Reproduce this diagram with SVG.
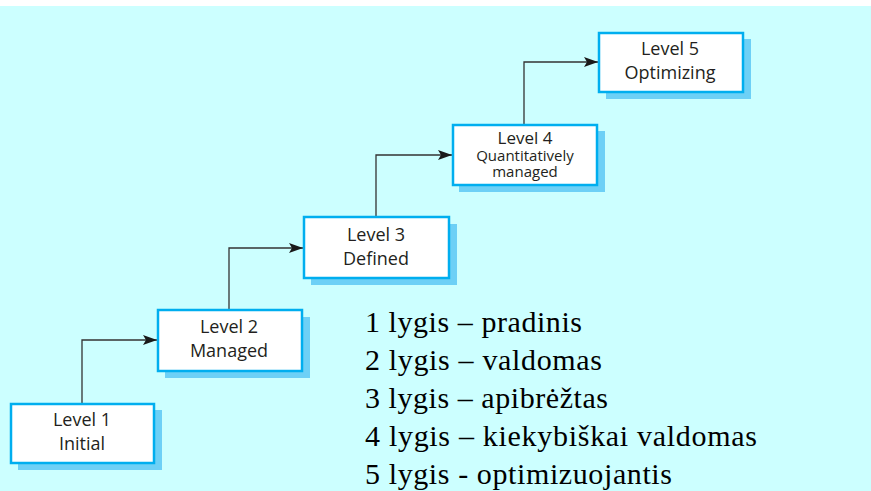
<svg xmlns="http://www.w3.org/2000/svg" width="871" height="491" viewBox="0 0 871 491">
  <style>
    .shadow { fill: #6dd0f6; }
    .box { fill: #ffffff; stroke: #00aeef; stroke-width: 2.5; }
    .lbl { font-family: "Open Sans", "Noto Sans", sans-serif; font-size: 18px; fill: #231f20; text-anchor: middle; }
    .mid { font-size: 17px; }
    .sm { font-size: 15px; }
    .wire { fill: none; stroke: #333333; stroke-width: 1.3; }
    .legend { font-family: "Liberation Serif", "Times New Roman", serif; font-size: 30px; fill: #000000; }
  </style>
  <defs>
    <marker id="arrow" viewBox="0 0 14 10" refX="14" refY="5" markerWidth="14" markerHeight="10" markerUnits="userSpaceOnUse" orient="auto">
      <path d="M0,0 L14,5 L0,10 L3,5 Z" fill="#1a1a1a"/>
    </marker>
  </defs>

  <rect x="0" y="0" width="871" height="491" fill="#ffffff"/>
  <rect x="0" y="6" width="871" height="485" fill="#ccffff"/>

  <g id="connectors">
    <path class="wire" d="M82,403 V340 H157" marker-end="url(#arrow)"/>
    <path class="wire" d="M229,309 V248 H303" marker-end="url(#arrow)"/>
    <path class="wire" d="M376,216 V155 H452" marker-end="url(#arrow)"/>
    <path class="wire" d="M524,124 V62 H598" marker-end="url(#arrow)"/>
  </g>

  <g id="level1">
    <rect class="shadow" x="18" y="410" width="144" height="60"/>
    <rect class="box" x="11" y="404" width="143" height="59"/>
    <text class="lbl" x="82" y="426">Level 1</text>
    <text class="lbl" x="82" y="450">Initial</text>
  </g>

  <g id="level2">
    <rect class="shadow" x="165" y="317" width="145" height="61"/>
    <rect class="box" x="158" y="310" width="144" height="61"/>
    <text class="lbl" x="229" y="333">Level 2</text>
    <text class="lbl" x="229" y="357">Managed</text>
  </g>

  <g id="level3">
    <rect class="shadow" x="311" y="224" width="146" height="61"/>
    <rect class="box" x="304" y="217" width="145" height="61"/>
    <text class="lbl" x="376" y="241">Level 3</text>
    <text class="lbl" x="376" y="265">Defined</text>
  </g>

  <g id="level4">
    <rect class="shadow" x="459" y="131" width="146" height="61"/>
    <rect class="box" x="453" y="125" width="144" height="60"/>
    <text class="lbl mid" x="525" y="144">Level 4</text>
    <text class="lbl sm" x="525" y="161">Quantitatively</text>
    <text class="lbl sm" x="525" y="177">managed</text>
  </g>

  <g id="level5">
    <rect class="shadow" x="606" y="39" width="145" height="60"/>
    <rect class="box" x="599" y="33" width="144" height="59"/>
    <text class="lbl" x="670" y="55">Level 5</text>
    <text class="lbl" x="670" y="79">Optimizing</text>
  </g>

  <g id="legend">
    <text class="legend" x="365" y="332" textLength="217" lengthAdjust="spacing">1 lygis – pradinis</text>
    <text class="legend" x="365" y="370" textLength="237" lengthAdjust="spacing">2 lygis – valdomas</text>
    <text class="legend" x="365" y="408" textLength="243" lengthAdjust="spacing">3 lygis – apibrėžtas</text>
    <text class="legend" x="365" y="446" textLength="392" lengthAdjust="spacing">4 lygis – kiekybiškai valdomas</text>
    <text class="legend" x="365" y="484" textLength="307" lengthAdjust="spacing">5 lygis - optimizuojantis</text>
  </g>
</svg>
